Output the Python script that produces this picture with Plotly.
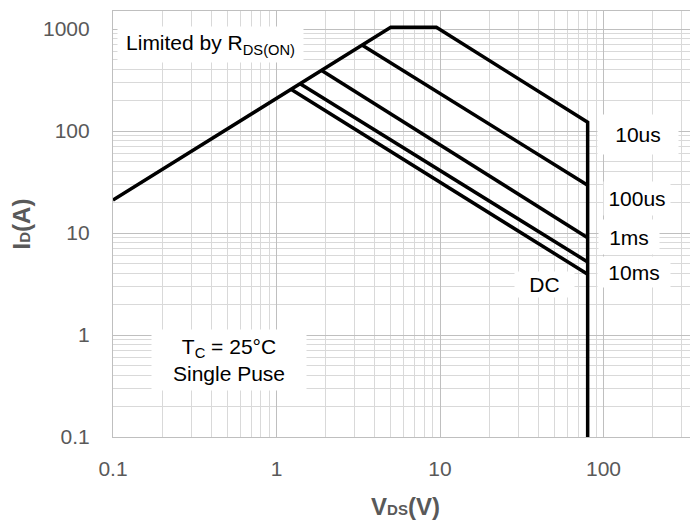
import plotly.graph_objects as go

# ---- data (V_DS in volts, I_D in amps) ----
v_boundary = [0.1, 5.0, 9.5, 80, 80]        # R_DS(on) limit, current limit, 10us, Vmax
i_boundary = [21, 1040, 1040, 122, 0.1]
v_100us = [3.35, 80]
i_100us = [692, 29.4]
v_1ms = [1.88, 80]
i_1ms = [394, 9.0]
v_10ms = [1.387, 80]
i_10ms = [292, 5.2]
v_dc = [1.233, 80]
i_dc = [255, 3.94]

x_ticks = [0.1, 1, 10, 100]
x_tick_text = ["0.1", "1", "10", "100"]
y_ticks = [0.1, 1, 10, 100, 1000]
y_tick_text = ["0.1", "1", "10", "100", "1000"]

# the page body has an 8px default margin, so the figure is offset by 8px
OFF = 8
W, H = 690, 515
L, R, T, B = 105, 0, 3, 86
PX_DEC_X = 163.5
PX_DEC_Y = 102.0
x_range = [-1, -1 + (W - L - R) / PX_DEC_X]
y_range = [-1, -1 + (H - T - B) / PX_DEC_Y]

fig = go.Figure()
line_style = dict(color="black", width=3.5)
for v, i in [(v_boundary, i_boundary), (v_100us, i_100us), (v_1ms, i_1ms),
             (v_10ms, i_10ms), (v_dc, i_dc)]:
    fig.add_trace(go.Scatter(x=v, y=i, mode="lines", line=line_style,
                             showlegend=False, hoverinfo="skip"))

MAJOR = "#BFBFBF"
MINOR = "#D9D9D9"
tick_font = dict(family="Liberation Sans, Arial, sans-serif", size=21, color="#595959")
title_font = dict(family="Liberation Sans, Arial, sans-serif", size=24, color="#595959")

fig.update_xaxes(
    type="log", range=x_range, tickvals=x_ticks, ticktext=x_tick_text,
    tickfont=tick_font, ticks="outside", ticklen=13, tickcolor="rgba(0,0,0,0)",
    showgrid=True, gridcolor=MAJOR, gridwidth=1.2,
    minor=dict(dtick="D1", showgrid=True, gridcolor=MINOR, gridwidth=1.2, ticks=""),
    showline=True, linecolor=MAJOR, linewidth=1.2, mirror=True, zeroline=False,
    title=dict(text="<b>V<span style='font-size:15px'>DS</span>(V)</b>",
               font=title_font, standoff=18),
    automargin=False,
)
fig.update_yaxes(
    type="log", range=y_range, tickvals=y_ticks, ticktext=y_tick_text,
    tickfont=tick_font, ticks="outside", ticklen=18, tickcolor="rgba(0,0,0,0)",
    showgrid=True, gridcolor=MAJOR, gridwidth=1.2,
    minor=dict(dtick="D1", showgrid=True, gridcolor=MINOR, gridwidth=1.2, ticks=""),
    showline=True, linecolor=MAJOR, linewidth=1.2, zeroline=False,
    title=dict(text="<b>I<span style='font-size:15px'>D</span>(A)</b>",
               font=title_font, standoff=15),
    automargin=False,
)

def px_to_paper(px, py):
    # px, py are page pixel positions
    fx, fy = px - OFF, py - OFF
    return (fx - L) / (W - L - R), (H - B - fy) / (H - T - B)

ann_font = dict(family="Liberation Sans, Arial, sans-serif", size=21, color="black")
labels = [
    ("Limited by R<sub>DS(ON)</sub>", 210.5, 44.2, 185, 35),
    ("10us", 638, 134.5, 80, 39),
    ("100us", 637, 198.3, 66, 33),
    ("1ms", 629, 237, 60, 34),
    ("10ms", 634, 271.5, 72, 30),
    ("DC", 544, 284.5, 59, 25),
    ("T<sub>C</sub> = 25°C<br>Single Puse", 229, 360, 154, 60),
]
for text, cx, cy, w, h in labels:
    xp, yp = px_to_paper(cx, cy)
    fig.add_annotation(text=text, x=xp, y=yp, xref="paper", yref="paper",
                       xanchor="center", yanchor="middle", showarrow=False,
                       width=w, height=h, bgcolor="white", borderpad=0,
                       font=ann_font, align="center")

fig.update_layout(
    width=W, height=H,
    margin=dict(l=L, r=R, t=T, b=B, pad=0),
    paper_bgcolor="white", plot_bgcolor="white",
    font=dict(family="Liberation Sans, Arial, sans-serif"),
)

fig.write_html("out.html")
